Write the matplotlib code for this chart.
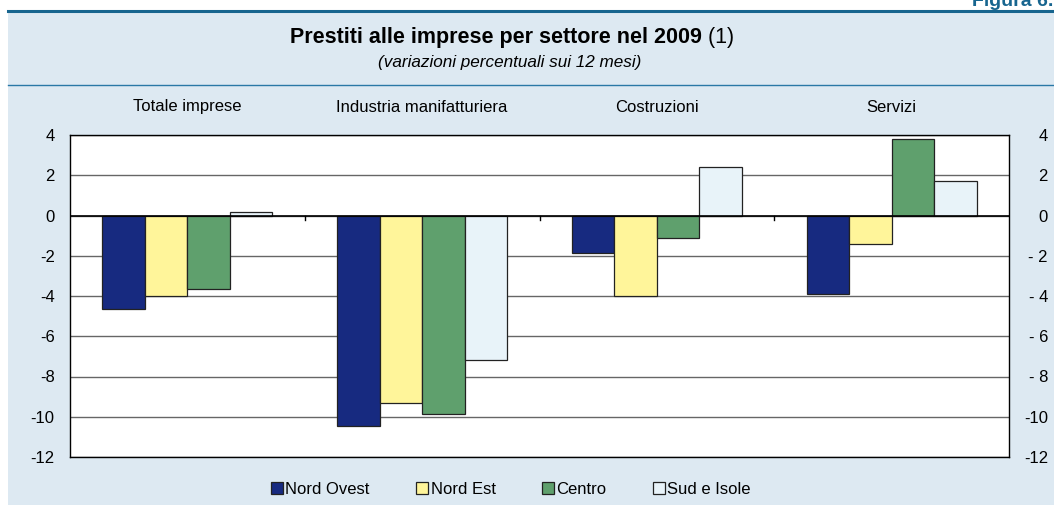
import numpy as np
import matplotlib.pyplot as plt
from matplotlib.patches import Rectangle
from matplotlib.lines import Line2D

plt.rcParams['font.family'] = ['Liberation Sans', 'DejaVu Sans']

settori = ["Totale imprese", "Industria manifatturiera", "Costruzioni", "Servizi"]
serie = ["Nord Ovest", "Nord Est", "Centro", "Sud e Isole"]
nord_ovest = [-4.63, -10.47, -1.86, -3.90]
nord_est = [-3.99, -9.30, -3.98, -1.42]
centro = [-3.64, -9.88, -1.10, 3.82]
sud_isole = [0.17, -7.20, 2.42, 1.69]
colori = ["#172a80", "#fff59a", "#5fa06d", "#e8f3f9"]

yticks = [4, 2, 0, -2, -4, -6, -8, -10, -12]
yticks_dx = ["4", "2", "0", "- 2", "- 4", "- 6", "- 8", "-10", "-12"]

W, H = 1054, 505
fig = plt.figure(figsize=(W / 100, H / 100), dpi=100)
fig.patch.set_facecolor("white")

# sfondo azzurro e linee della cornice
fig.patches.append(Rectangle((8 / W, 0), 1 - 8 / W, 1 - 11 / H, transform=fig.transFigure,
                             facecolor="#dde9f2", edgecolor="none", zorder=-5))
fig.add_artist(Line2D([8 / W, 1], [1 - 10.5 / H] * 2, color="#17658f", lw=2.2, zorder=-4))
fig.add_artist(Line2D([8 / W, 1], [1 - 85 / H] * 2, color="#2a78a6", lw=1.0, zorder=-4))
fig.text(972 / W, 1 - 6 / H, "Figura 6.", ha="left", va="baseline", fontsize=14,
         fontweight="bold", color="#17658f")

# titolo: parte in grassetto + "(1)"
tb = fig.text(0, 1 - 37 / H, "Prestiti alle imprese per settore nel 2009", ha="left",
              va="center", fontsize=15.5, fontweight="bold")
tr = fig.text(0, 1 - 37 / H, " (1)", ha="left", va="center", fontsize=15.5)
r = fig.canvas.get_renderer()
wb = tb.get_window_extent(r).width
wr = tr.get_window_extent(r).width
x0 = (512 - (wb + wr) / 2) / W
tb.set_x(x0)
tr.set_x(x0 + wb / W)
fig.text(510 / W, 1 - 62 / H, "(variazioni percentuali sui 12 mesi)", ha="center",
         va="center", fontsize=12.3, style="italic")

ax = fig.add_axes([70 / W, 1 - 457 / H, (1009 - 70) / W, (457 - 135) / H])
ax.set_facecolor("white")
x = np.arange(len(settori))
bw = 0.181
for i, (vals, c) in enumerate(zip([nord_ovest, nord_est, centro, sud_isole], colori)):
    ax.bar(x + (i - 1.5) * bw, vals, bw, color=c, edgecolor="#222222", linewidth=0.9,
           label=serie[i], zorder=3)

ax.set_xlim(-0.5, len(settori) - 0.5)
ax.set_ylim(-12, 4)
ax.set_yticks(yticks)
ax.set_yticklabels([str(v) for v in yticks])
ax.yaxis.grid(True, color="#666666", lw=1.0, zorder=0)
ax.axhline(0, color="black", lw=1.2, zorder=4)
for b in np.arange(0.5, len(settori) - 0.5):
    ax.plot([b, b], [0, -0.2], color="black", lw=1, zorder=4)
ax.tick_params(axis="y", length=0, labelsize=12, pad=11)
ax.tick_params(axis="x", length=0)
ax.set_xticks([])
for s in ax.spines.values():
    s.set_color("black")
    s.set_linewidth(1.0)

for xi, lab in zip(x, settori):
    ax.text(xi, 1 + 28 / 322, lab, transform=ax.get_xaxis_transform(), ha="center",
            va="center", fontsize=12)

ax2 = ax.twinx()
ax2.set_ylim(-12, 4)
ax2.set_yticks(yticks)
ax2.set_yticklabels(yticks_dx, ha="right")
ax2.tick_params(axis="y", length=0, labelsize=12, pad=28)
for s in ax2.spines.values():
    s.set_visible(False)

handles, labels = ax.get_legend_handles_labels()
fig.legend(handles, labels, loc="center", bbox_to_anchor=(511 / W, 1 - 489 / H), ncol=4,
           frameon=False, fontsize=12, handlelength=0.7, handleheight=0.7,
           handletextpad=0.15, columnspacing=2.8)

fig.savefig("out.png", dpi=100)
